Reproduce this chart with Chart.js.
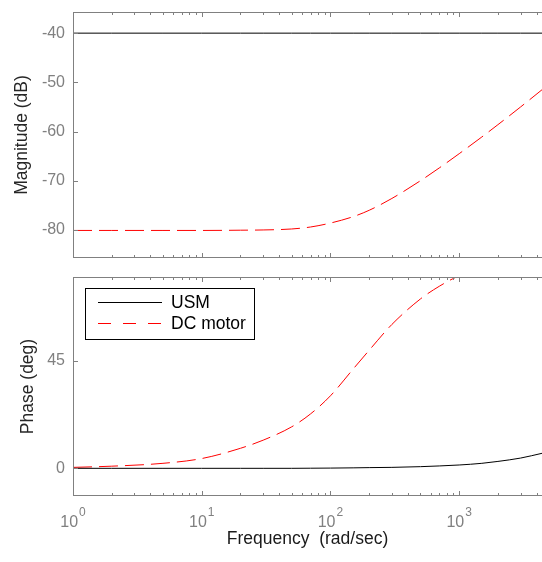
<!DOCTYPE html>
<html>
<head>
<meta charset="utf-8">
<script src="https://cdn.jsdelivr.net/npm/chart.js@4.4.1/dist/chart.umd.min.js"></script>
<style>
  body { margin: 0; background: #fff; }
  #wrap { position: relative; width: 542px; height: 562px; overflow: hidden; }
  canvas { position: absolute; left: 0; }
  #magChart { top: 0; }
  #phaseChart { top: 265px; }
</style>
</head>
<body>
<div id="wrap">
  <canvas id="magChart" width="542" height="265"></canvas>
  <canvas id="phaseChart" width="542" height="297"></canvas>
</div>
<script>
// frequency points (rad/sec)
const freq = [1, 2, 5, 10, 20, 30, 50, 70, 100, 150, 200, 300, 500, 700, 1000, 1500, 2000, 3000, 4400];

// magnitude (dB)
const usmMag = [-40, -40, -40, -40, -40, -40, -40, -40, -40, -40, -40, -40, -40, -40, -40, -40, -40, -40, -40];
const dcMag = [-80.1, -80.1, -80.1, -80.1, -80.05, -80.0, -79.8, -79.4, -78.6, -77.3, -76.0, -73.6, -70.0, -67.4, -64.5, -61.1, -58.6, -55.0, -51.5];

// phase (deg)
const usmPhase = [0, 0, 0, 0, 0, 0, 0, 0.05, 0.1, 0.2, 0.3, 0.4, 0.7, 1.0, 1.4, 2.1, 2.9, 4.3, 6.3];
const dcPhase = [0.4, 0.9, 2.1, 4.1, 8.4, 11.8, 17.4, 22.8, 30.4, 41.6, 49.5, 60.3, 71.0, 76.3, 80.8, 84.5, 86.0, 87.5, 88.2];

// ticks
const magTicks = [-80, -70, -60, -50, -40];
const phaseTicks = [0, 45];
const decades = [1, 10, 100, 1000];

const axisGrey = '#808080';
const fontFam = '"Liberation Sans", Arial, Helvetica, sans-serif';

function pts(ys) {
    return freq.map((f, i) => ({x: f, y: ys[i]}));
}

// MATLAB style box with inward ticks
const boxPlugin = {
    id: 'box',
    afterDatasetsDraw(chart) {
        const {ctx, chartArea: a, scales: {x, y}} = chart;
        ctx.save();
        ctx.strokeStyle = axisGrey;
        ctx.lineWidth = 1;
        ctx.beginPath();
        ctx.moveTo(a.right + 2, a.top + 0.5);
        ctx.lineTo(a.left + 0.5, a.top + 0.5);
        ctx.lineTo(a.left + 0.5, a.bottom - 0.5);
        ctx.lineTo(a.right + 2, a.bottom - 0.5);
        // x ticks on top and bottom
        decades.forEach(d => {
            for (let m = 1; m <= 9; m++) {
                const v = d * m;
                if (v > x.max) break;
                const px = Math.round(x.getPixelForValue(v)) + 0.5;
                const len = m === 1 ? 5 : 3;
                ctx.moveTo(px, a.top);
                ctx.lineTo(px, a.top + len);
                ctx.moveTo(px, a.bottom);
                ctx.lineTo(px, a.bottom - len);
            }
        });
        // y ticks on the left
        y.ticks.forEach(t => {
            const py = Math.round(y.getPixelForValue(t.value)) + 0.5;
            ctx.moveTo(a.left, py);
            ctx.lineTo(a.left + 5, py);
        });
        ctx.stroke();
        ctx.restore();
    }
};

// 10^n labels under the bottom axis
const decadeLabels = {
    id: 'decadeLabels',
    afterDraw(chart) {
        const {ctx, chartArea: a, scales: {x}} = chart;
        ctx.save();
        ctx.fillStyle = axisGrey;
        ctx.textBaseline = 'alphabetic';
        ctx.textAlign = 'left';
        decades.forEach((d, n) => {
            const px = x.getPixelForValue(d);
            ctx.font = '16px ' + fontFam;
            const w1 = ctx.measureText('10').width;
            ctx.font = '12px ' + fontFam;
            const w2 = ctx.measureText(String(n)).width;
            const start = px - (w1 + w2 + 1) / 2;
            ctx.font = '16px ' + fontFam;
            ctx.fillText('10', start, a.bottom + 31);
            ctx.font = '12px ' + fontFam;
            ctx.fillText(String(n), start + w1 + 1, a.bottom + 19.5);
        });
        ctx.restore();
    }
};

// boxed legend in the upper left of the phase plot
const boxLegend = {
    id: 'boxLegend',
    afterDraw(chart) {
        const {ctx, chartArea: a} = chart;
        const left = a.left + 12, top = a.top + 11;
        ctx.save();
        ctx.fillStyle = '#fff';
        ctx.fillRect(left, top, 169, 51);
        ctx.strokeStyle = '#000';
        ctx.lineWidth = 1;
        ctx.strokeRect(left + 0.5, top + 0.5, 169, 51);
        ctx.font = '17.5px ' + fontFam;
        ctx.textBaseline = 'middle';
        chart.data.datasets.forEach((ds, i) => {
            const ry = Math.round(top + 14 + i * 21) + 0.5;
            ctx.strokeStyle = ds.borderColor;
            ctx.setLineDash(ds.legendDash || []);
            ctx.beginPath();
            ctx.moveTo(left + 13, ry);
            ctx.lineTo(left + 77, ry);
            ctx.stroke();
            ctx.setLineDash([]);
            ctx.fillStyle = '#000';
            ctx.fillText(ds.label, left + 86, ry + 1);
        });
        ctx.restore();
    }
};

function makeDatasets(usm, dc) {
    return [{
        label: 'USM',
        data: pts(usm),
        borderColor: '#000000',
        borderWidth: 1,
        pointRadius: 0,
        cubicInterpolationMode: 'monotone'
    }, {
        label: 'DC motor',
        data: pts(dc),
        borderColor: '#ff0000',
        borderWidth: 1,
        borderDash: [19, 7],
        legendDash: [13, 12],
        pointRadius: 0,
        cubicInterpolationMode: 'monotone'
    }];
}

function yAxis(min, max, ticks, title, titlePad) {
    return {
        type: 'linear',
        min: min,
        max: max,
        afterBuildTicks: s => { s.ticks = ticks.map(v => ({value: v})); },
        afterFit: s => { s.width = 73; s.paddingTop = 0; s.paddingBottom = 0; },
        grid: {display: false, drawTicks: false},
        border: {display: false},
        ticks: {color: axisGrey, padding: 8, font: {family: fontFam, size: 16}},
        title: {display: true, text: title, color: '#262626', padding: {top: titlePad, bottom: 0},
            font: {family: fontFam, size: 17.5}}
    };
}

const commonOpts = {
    responsive: false,
    animation: false,
    plugins: {legend: {display: false}, tooltip: {enabled: false}}
};

new Chart(document.getElementById('magChart').getContext('2d'), {
    type: 'line',
    data: {datasets: makeDatasets(usmMag, dcMag)},
    options: {
        ...commonOpts,
        layout: {padding: {top: 12, bottom: 7, left: 0, right: 0}},
        scales: {
            x: {type: 'logarithmic', min: 1, max: 4400, display: false},
            y: yAxis(-85.7, -35.7, magTicks, 'Magnitude (dB)', 11.5)
        }
    },
    plugins: [boxPlugin]
});

new Chart(document.getElementById('phaseChart').getContext('2d'), {
    type: 'line',
    data: {datasets: makeDatasets(usmPhase, dcPhase)},
    options: {
        ...commonOpts,
        layout: {padding: {top: 12, bottom: 0, left: 0, right: 0}},
        scales: {
            x: {
                type: 'logarithmic', min: 1, max: 4400,
                afterFit: s => { s.height = 66; s.paddingLeft = 0; s.paddingRight = 0; },
                grid: {display: false, drawTicks: false},
                border: {display: false},
                ticks: {display: false},
                title: {display: true, text: 'Frequency  (rad/sec)', color: '#1a1a1a',
                    padding: {top: 0, bottom: 12}, font: {family: fontFam, size: 17.5}}
            },
            y: yAxis(-11.6, 80.2, phaseTicks, 'Phase (deg)', 17.5)
        }
    },
    plugins: [boxPlugin, decadeLabels, boxLegend]
});
</script>
</body>
</html>
